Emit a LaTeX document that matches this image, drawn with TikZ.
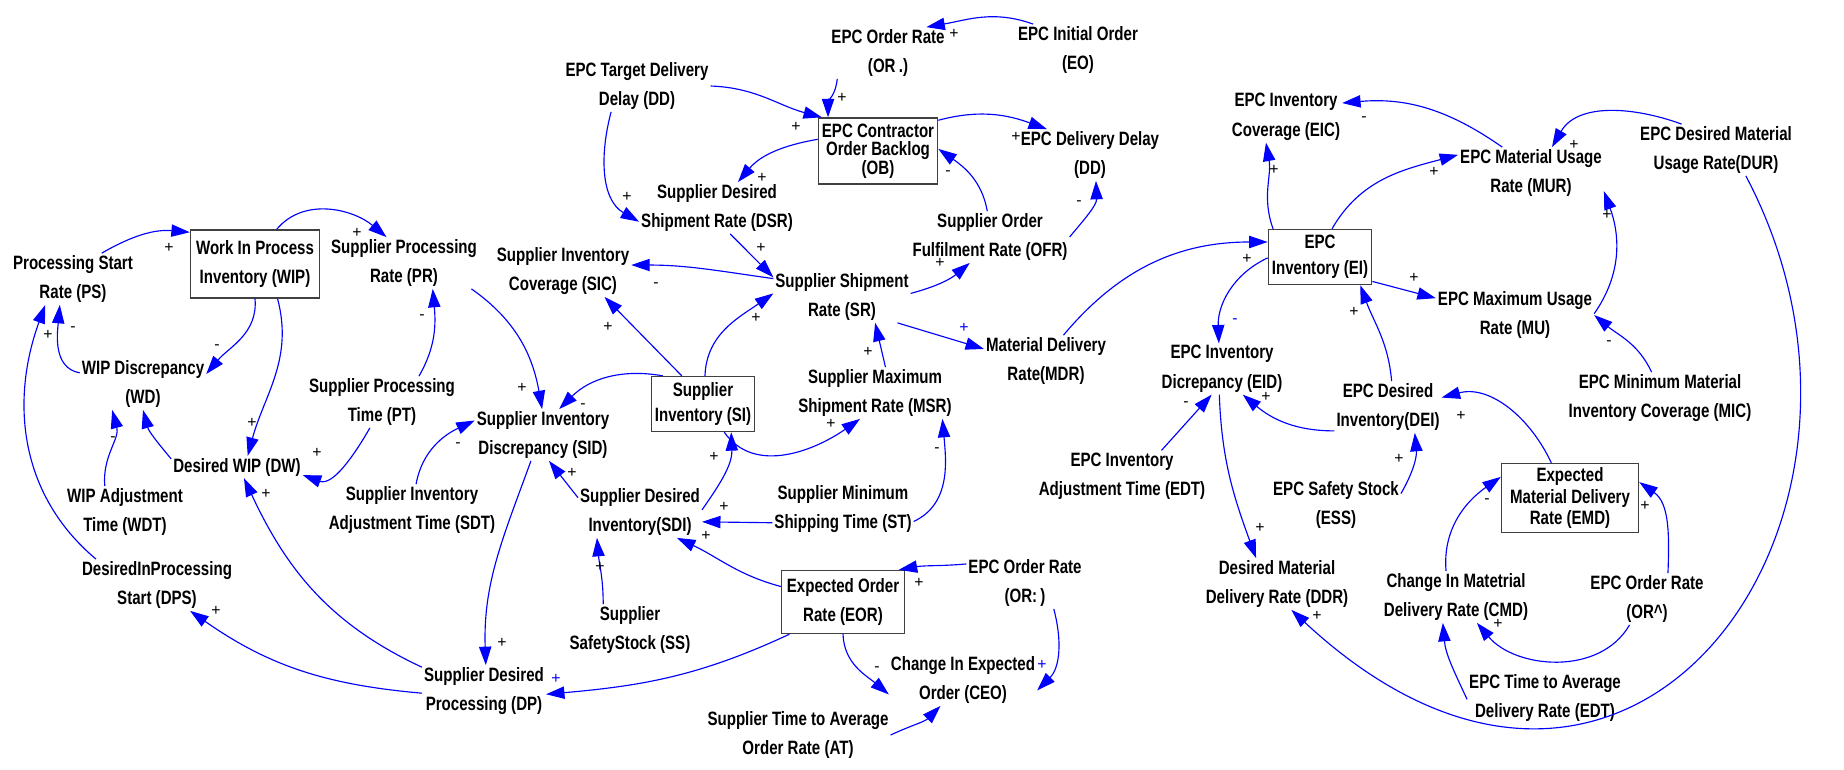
\documentclass[tikz,border=0pt]{standalone}
\usepackage{fontspec}
\usetikzlibrary{arrows.meta}
\newfontfamily\lblfont[FakeStretch=0.78]{Liberation Sans}
\newfontfamily\sgfont{Liberation Sans}
\begin{document}
\begin{tikzpicture}[x=0.02cm,y=-0.02cm,
  lbl/.style={align=center,inner sep=1pt,font=\lblfont\bfseries\fontsize{11}{16.8}\selectfont},
  stock/.style={lbl,draw=black!75,line width=0.8pt,inner sep=2pt},
  link/.style={draw=blue,line width=0.65pt,-{Triangle[length=10.5pt,width=7pt]}},
  pol/.style={font=\sgfont\fontsize{9}{9}\selectfont,inner sep=0pt},
  bpol/.style={pol,text=blue}]
\useasboundingbox (0,0) rectangle (1844,769);

% ---------- supplier processing sector ----------
\node[lbl] (PS) at (73,279) {Processing Start\\Rate (PS)};
\node[stock,minimum width=2.58cm,minimum height=1.36cm] (WIP) at (255,264) {Work In Process\\Inventory (WIP)};
\node[lbl] (PR) at (404,263) {Supplier Processing\\Rate (PR)};
\node[lbl] (WD) at (143,384) {WIP Discrepancy\\(WD)};
\node[lbl] (PT) at (382,402) {Supplier Processing\\Time (PT)};
\node[lbl] (DW) at (237,467) {Desired WIP (DW)};
\node[lbl] (WDT) at (125,512) {WIP Adjustment\\Time (WDT)};
\node[lbl] (DPS) at (157,585) {DesiredInProcessing\\Start (DPS)};
\node[lbl] (SDT) at (412,510) {Supplier Inventory\\Adjustment Time (SDT)};
\node[lbl] (DP) at (484,691) {Supplier Desired\\Processing (DP)};

% ---------- supplier inventory sector ----------
\node[lbl] (SID) at (543,435) {Supplier Inventory\\Discrepancy (SID)};
\node[lbl] (SIC) at (563,271) {Supplier Inventory\\Coverage (SIC)};
\node[stock,minimum width=2.04cm,minimum height=1.1cm,font=\lblfont\bfseries\fontsize{11}{14.5}\selectfont] (SI) at (703,404) {Supplier\\Inventory (SI)};
\node[lbl] (SDI) at (640,512) {Supplier Desired\\Inventory(SDI)};
\node[lbl] (SS) at (630,630) {Supplier\\SafetyStock (SS)};
\node[lbl] (DDT) at (637,86) {EPC Target Delivery\\Delay (DD)};
\node[lbl] (DSR) at (717,208) {Supplier Desired\\Shipment Rate (DSR)};
\node[lbl] (SR) at (842,297) {Supplier Shipment\\Rate (SR)};
\node[lbl] (MSR) at (875,393) {Supplier Maximum\\Shipment Rate (MSR)};
\node[lbl] (ST) at (843,509) {Supplier Minimum\\Shipping Time (ST)};
\node[stock,minimum width=2.46cm,minimum height=1.26cm] (EOR) at (843,602) {Expected Order\\Rate (EOR)};
\node[lbl] (ORb) at (1025,583) {EPC Order Rate\\(OR:\,)};
\node[lbl] (CEO) at (963,680) {Change In Expected\\Order (CEO)};
\node[lbl] (AT) at (798,735) {Supplier Time to Average\\Order Rate (AT)};

% ---------- order backlog sector ----------
\node[lbl] (ORa) at (888,53) {EPC Order Rate\\(OR\,.)};
\node[lbl] (EO) at (1078,50) {EPC Initial Order\\(EO)};
\node[stock,minimum width=2.34cm,minimum height=1.32cm,font=\lblfont\bfseries\fontsize{11}{10.5}\selectfont] (OB) at (878,151) {EPC Contractor\\Order Backlog\\(OB)};
\node[lbl] (DDL) at (1090,155) {EPC Delivery Delay\\(DD)};
\node[lbl] (OFR) at (990,237) {Supplier Order\\Fulfilment Rate (OFR)};
\node[lbl] (MDR) at (1046,361) {Material Delivery\\Rate(MDR)};

% ---------- EPC inventory sector ----------
\node[lbl] (EIC) at (1286,117) {EPC Inventory\\Coverage (EIC)};
\node[lbl] (MUR) at (1531,173) {EPC Material Usage\\Rate (MUR)};
\node[lbl] (DUR) at (1716,150) {EPC Desired Material\\Usage Rate(DUR)};
\node[stock,minimum width=2.06cm,minimum height=1.1cm,font=\lblfont\bfseries\fontsize{11}{15}\selectfont] (EI) at (1320,257) {EPC\\Inventory (EI)};
\node[lbl] (MU) at (1515,315) {EPC Maximum Usage\\Rate (MU)};
\node[lbl] (EID) at (1222,369) {EPC Inventory\\Dicrepancy (EID)};
\node[lbl] (DEI) at (1388,407) {EPC Desired\\Inventory(DEI)};
\node[lbl] (MIC) at (1660,398) {EPC Minimum Material\\Inventory Coverage (MIC)};
\node[lbl] (EDTa) at (1122,476) {EPC Inventory\\Adjustment Time (EDT)};
\node[lbl] (ESS) at (1336,505) {EPC Safety Stock\\(ESS)};
\node[stock,minimum width=2.74cm,minimum height=1.38cm,font=\lblfont\bfseries\fontsize{11}{12.5}\selectfont] (EMD) at (1570,498) {Expected\\Material Delivery\\Rate (EMD)};
\node[lbl] (DDR) at (1277,584) {Desired Material\\Delivery Rate (DDR)};
\node[lbl] (CMD) at (1456,597) {Change In Matetrial\\Delivery Rate (CMD)};
\node[lbl] (ORc) at (1647,599) {EPC Order Rate\\(OR\textasciicircum)};
\node[lbl] (EDTb) at (1545,698) {EPC Time to Average\\Delivery Rate (EDT)};

% ---------- causal links ----------
\draw[link] (PS.42) to[out=30,in=175] (WIP.154);
\draw[link] (WIP.58) to[out=50,in=140] (PR.124);
\draw[link] (WIP.-90) to[out=-85,in=50] (WD.9);
\draw[link] (WIP.-57) to[out=-75,in=75] (DW.46);
\draw[link] (WD.170) to[out=170,in=-95] (PS.-117);
\draw[link] (DPS.157) to[out=140,in=-110] (PS.-137);
\draw[link] (PT.35) to[out=60,in=-85] (PR.-42);
\draw[link] (PT.-115) to[out=-120,in=-20] (DW.-7);
\draw[link] (DW.173) to[out=130,in=-75] (WD.-90);
\draw[link] (WDT.128) to[out=95,in=-75] (WD.-140);
\draw[link] (DP.159) to[out=155,in=-65] (DW.-58);
\draw[link] (DP.182) to[out=175,in=-35] (DPS.-38);
\draw[link] (SID.-115) to[out=-110,in=92] (DP.86);
\draw[link] (PR.-21) to[out=-35,in=100] (SID.92);
\draw[link] (SI.145) to[out=170,in=45] (SID.58);
\draw[link] (SDT.81) to[out=80,in=205] (SID.168);
\draw[link] (SDI.167) -- (SID.-77);
\draw[link] (SI.127) -- (SIC.-32);
\draw[link] (SI.86) to[out=88,in=215] (SR.177);
\draw[link] (SR.165) to[out=172,in=0] (SIC.5);
\draw[link] (MSR.68) -- (SR.-38);
\draw[link] (SI.-53) to[out=-55,in=-145] (MSR.-120);
\draw[link] (SDI.2) to[out=55,in=-88] (SI.-45);
\draw[link] (ST.191) -- (SDI.-9);
\draw[link] (ST.-10) to[out=25,in=-85] (MSR.-21);
\draw[link] (EOR.166) to[out=165,in=-25] (SDI.-35);
\draw[link] (SS.136) to[out=90,in=-85] (SDI.-149);
\draw[link] (EOR.-149) to[out=-155,in=5] (DP.-3);
\draw[link] (EOR.-90) to[out=-88,in=140] (CEO.191);
\draw[link] (ORb.162) to[out=185,in=10] (EOR.30);
\draw[link] (ORb.-42) to[out=-75,in=45] (CEO.-8);
\draw[link] (AT.0) to[out=25,in=-135] (CEO.-131);
\draw[link] (DDT.0) to[out=-2,in=165] (OB.149);
\draw[link] (ORa.-153) to[out=-95,in=90] (OB.146);
\draw[link] (OB.169) to[out=190,in=50] (DSR.51);
\draw[link] (DDT.-135) to[out=-105,in=150] (DSR.-170);
\draw[link] (DSR.-63) -- (SR.164);
\draw[link] (EO.150) to[out=160,in=10] (ORa.34);
\draw[link] (OB.27) to[out=15,in=160] (DDL.149);
\draw[link] (OFR.96) to[out=100,in=-35] (OB.2);
\draw[link] (OFR.0) to[out=50,in=-88] (DDL.-77);
\draw[link] (SR.3) to[out=15,in=-140] (OFR.-128);
\draw[link] (SR.-25) -- (MDR.169);
\draw[link] (MDR.56) to[out=50,in=180] (EI.164);
\draw[link] (EI.181) to[out=205,in=92] (EID.97);
\draw[link] (EI.149) to[out=110,in=-80] (EIC.-128);
\draw[link] (EI.67) to[out=60,in=195] (MUR.166);
\draw[link] (MUR.138) to[out=145,in=5] (EIC.14);
\draw[link] (DUR.143) to[out=160,in=60] (MUR.51);
\draw[link] (MIC.108) to[out=115,in=-40] (MU.0);
\draw[link] (MU.1) to[out=55,in=-70] (MUR.-14);
\draw[link] (EI.-25) -- (MU.168);
\draw[link] (DEI.82) to[out=95,in=-70] (EI.-35);
\draw[link] (DEI.-156) to[out=180,in=-40] (EID.-51);
\draw[link] (EDTa.33) -- (EID.-112);
\draw[link] (EID.-96) to[out=-88,in=110] (DDR.129);
\draw[link] (ESS.10) to[out=60,in=-85] (DEI.-44);
\draw[link] (EMD.118) to[out=115,in=15] (DEI.10);
\draw[link] (CMD.111) to[out=95,in=215] (EMD.163);
\draw[link] (ORc.51) to[out=88,in=-35] (EMD.13);
\draw[link] (ORc.-124) to[out=-120,in=-50] (CMD.-51);
\draw[link] (EDTb.181) to[out=115,in=-85] (CMD.-117);
\draw[link] (DUR.-41) .. controls +(180,340) and +(341,317) .. (DDR.-61);

% ---------- link polarities ----------
\node[pol] (p01) at (169,248) {+};
\node[pol] (p02) at (357,233) {+};
\node[pol] (p03) at (217,347) {-};
\node[pol] (p04) at (252,423) {+};
\node[pol] (p05) at (73,329) {-};
\node[pol] (p06) at (48,335) {+};
\node[pol] (p07) at (422,317) {-};
\node[pol] (p08) at (317,453) {+};
\node[pol] (p09) at (113,439) {-};
\node[pol] (p10) at (266,494) {+};
\node[pol] (p11) at (216,611) {+};
\node[pol] (p12) at (502,643) {+};
\node[pol] (p13) at (522,388) {+};
\node[pol] (p14) at (583,406) {-};
\node[pol] (p15) at (458,445) {-};
\node[pol] (p16) at (572,473) {+};
\node[pol] (p17) at (608,327) {+};
\node[pol] (p18) at (756,318) {+};
\node[pol] (p19) at (656,285) {-};
\node[pol] (p20) at (868,352) {+};
\node[pol] (p21) at (831,424) {+};
\node[pol] (p22) at (714,457) {+};
\node[pol] (p23) at (724,507) {+};
\node[pol] (p24) at (937,450) {-};
\node[pol] (p25) at (706,536) {+};
\node[pol] (p26) at (600,567) {+};
\node[bpol] (p27) at (556,679) {+};
\node[pol] (p28) at (877,669) {-};
\node[pol] (p29) at (919,583) {+};
\node[bpol] (p30) at (1042,665) {+};
\node[pol] (p31) at (796,127) {+};
\node[pol] (p32) at (842,98) {+};
\node[pol] (p33) at (762,178) {+};
\node[pol] (p34) at (627,197) {+};
\node[pol] (p35) at (761,248) {+};
\node[pol] (p36) at (954,34) {+};
\node[pol] (p37) at (1016,137) {+};
\node[pol] (p38) at (948,173) {-};
\node[pol] (p39) at (1079,203) {-};
\node[pol] (p40) at (940,263) {+};
\node[bpol] (p41) at (964,328) {+};
\node[pol] (p42) at (1247,259) {+};
\node[bpol] (p43) at (1235,321) {-};
\node[pol] (p44) at (1274,170) {+};
\node[pol] (p45) at (1434,172) {+};
\node[pol] (p46) at (1364,119) {-};
\node[pol] (p47) at (1574,145) {+};
\node[pol] (p48) at (1609,343) {-};
\node[pol] (p49) at (1607,215) {+};
\node[pol] (p50) at (1414,278) {+};
\node[pol] (p51) at (1354,312) {+};
\node[pol] (p52) at (1266,397) {+};
\node[pol] (p53) at (1186,404) {-};
\node[pol] (p54) at (1260,528) {+};
\node[pol] (p55) at (1399,459) {+};
\node[pol] (p56) at (1461,416) {+};
\node[pol] (p57) at (1487,501) {-};
\node[pol] (p58) at (1645,506) {+};
\node[pol] (p59) at (1498,624) {+};
\node[pol] (p60) at (1317,616) {+};
\end{tikzpicture}
\end{document}
